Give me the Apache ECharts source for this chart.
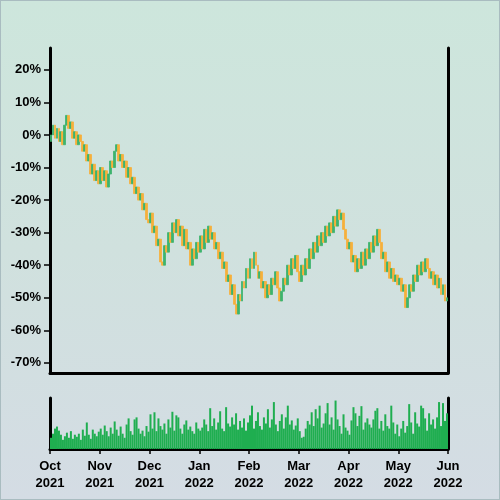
<!DOCTYPE html>
<html>
<head>
<meta charset="utf-8">
<script src="https://cdn.jsdelivr.net/npm/echarts@6/dist/echarts.min.js"></script>
<style>
  html, body { margin: 0; padding: 0; }
  #chart {
    width: 500px; height: 500px; box-sizing: border-box;
    border: 1px solid #a9bcc0;
    background: linear-gradient(to bottom, #cde6dc 0%, #d0e1de 50%, #d4dce4 100%);
  }
</style>
</head>
<body>
<div id="chart"></div>
<script>
// month tick labels (25 points per month)
const monthLabels = ['Oct\n2021', 'Nov\n2021', 'Dec\n2021', 'Jan\n2022', 'Feb\n2022', 'Mar\n2022', 'Apr\n2022', 'May\n2022', 'Jun\n2022']
const perMonth = 25
const yTicks = [-70, -60, -50, -40, -30, -20, -10, 0, 10, 20]

// closing value, % change from start
const closes = [
  0, 3, -1, 2, -2, 1, -3, 3, 6, 2, 4, -1, 1, -3, 0, -2, -5, -3, -8, -6, -12, -9, -14, -11, -15,
  -10, -14, -11, -16, -12, -8, -10, -5, -3, -8, -6, -10, -8, -13, -10, -15, -13, -18, -16, -20, -18, -23, -21, -26, -27,
  -24, -30, -28, -34, -32, -39, -40, -34, -36, -30, -33, -27, -30, -26, -31, -28, -34, -29, -35, -33, -40, -35, -38, -33, -36,
  -31, -35, -29, -33, -28, -32, -30, -35, -33, -38, -36, -41, -39, -45, -43, -49, -46, -52, -55, -49, -51, -45, -47, -41, -44,
  -38, -41, -36, -40, -44, -42, -47, -45, -50, -46, -49, -44, -46, -42, -47, -51, -48, -44, -46, -40, -43, -38, -41, -37, -42,
  -45, -40, -43, -38, -41, -35, -38, -33, -36, -31, -34, -30, -33, -28, -31, -27, -30, -25, -28, -23, -26, -24, -29, -32, -35,
  -33, -39, -37, -42, -38, -41, -36, -40, -35, -38, -33, -36, -31, -34, -29, -33, -38, -36, -42, -39, -44, -41, -45, -43, -46,
  -44, -48, -46, -53, -50, -46, -48, -43, -45, -40, -43, -39, -42, -38, -41, -44, -42, -46, -43, -47, -44, -49, -46, -51, -50
]

// traded volume, relative units
const volumes = [
  22, 30, 40, 44, 36, 28, 18, 25, 32, 22, 35, 20, 28, 24, 30, 18, 38, 26, 52, 28, 20, 38, 30, 25, 34,
  40, 28, 46, 35, 25, 42, 30, 54, 38, 26, 44, 30, 22, 48, 60, 35, 28, 58, 62, 40, 30, 36, 25, 45, 34,
  68, 40, 72, 35, 60, 45, 38, 50, 30, 58, 42, 73, 36, 66, 62, 40, 30, 48, 56, 38, 44, 35, 30, 52, 40,
  36, 42, 58, 48, 35, 80, 45, 60, 38, 52, 74, 40, 35, 82, 50, 44, 62, 48, 70, 38, 55, 42, 60, 36, 52,
  66, 85, 40, 55, 72, 45, 38, 62, 50, 78, 42, 58, 92, 48, 35, 55, 68, 40, 62, 85, 48, 56, 38, 46, 60,
  35, 22, 24, 40, 55, 48, 72, 45, 78, 60, 85, 42, 50, 70, 90, 48, 62, 38, 95, 58, 45, 30, 68, 42, 36,
  28, 56, 82, 70, 45, 65, 84, 38, 52, 60, 48, 42, 58, 75, 80, 40, 55, 36, 68, 45, 40, 85, 52, 30, 48,
  25, 40, 55, 32, 45, 88, 52, 30, 72, 50, 44, 85, 80, 60, 36, 70, 48, 58, 40, 62, 92, 45, 90, 55, 70
]

const candleData = closes.map((c, i) => {
  const o = i === 0 ? -2 : closes[i - 1]
  return [i + 0.5, o, c, Math.min(o, c), Math.max(o, c)]
})
const volumeData = volumes.map((v, i) => [i + 0.5, v])

const xMax = monthLabels.length - 1
const font = { fontFamily: 'Liberation Sans, Arial, sans-serif', fontWeight: 'bold', fontSize: 13, color: '#000' }
const blackLine = { show: true, onZero: false, lineStyle: { color: '#000', width: 3 } }

const chart = echarts.init(document.getElementById('chart'))

chart.setOption({
  backgroundColor: 'transparent',
  animation: false,
  grid: [
    { left: 49, right: 51, top: 47, height: 325 },
    { left: 49, right: 51, top: 397, height: 51 }
  ],
  xAxis: [
    {
      type: 'value', gridIndex: 0, min: 0, max: xMax * perMonth, interval: perMonth,
      axisLine: blackLine, axisTick: { show: false }, axisLabel: { show: false }, splitLine: { show: false }
    },
    {
      type: 'value', gridIndex: 1, min: 0, max: xMax * perMonth, interval: perMonth,
      axisLine: blackLine,
      axisTick: { show: true, length: 5, lineStyle: { color: '#000', width: 1.5 } },
      axisLabel: {
        ...font, margin: 9, lineHeight: 17, showMaxLabel: true,
        formatter: v => monthLabels[Math.round(v / perMonth)]
      },
      splitLine: { show: false }
    }
  ],
  yAxis: [
    {
      type: 'value', gridIndex: 0, min: -73.1, max: 26.7,
      axisLine: blackLine,
      axisTick: { show: true, length: 6, customValues: yTicks, lineStyle: { color: '#000', width: 1.5 } },
      axisLabel: { ...font, margin: 9, customValues: yTicks, formatter: v => v + '%' },
      splitLine: { show: false }
    },
    {
      type: 'value', gridIndex: 0, position: 'right', min: -73.1, max: 26.7,
      axisLine: blackLine, axisTick: { show: false }, axisLabel: { show: false }, splitLine: { show: false }
    },
    {
      type: 'value', gridIndex: 1, min: 0, max: 100,
      axisLine: blackLine, axisTick: { show: false }, axisLabel: { show: false }, splitLine: { show: false }
    },
    {
      type: 'value', gridIndex: 1, position: 'right', min: 0, max: 100,
      axisLine: blackLine, axisTick: { show: false }, axisLabel: { show: false }, splitLine: { show: false }
    }
  ],
  series: [
    {
      type: 'candlestick',
      xAxisIndex: 0,
      yAxisIndex: 0,
      barWidth: 2.4,
      encode: { x: 0, y: [1, 2, 3, 4] },
      itemStyle: {
        color: '#3db46d',
        color0: '#f6b03b',
        borderColor: '#3db46d',
        borderColor0: '#f6b03b',
        borderWidth: 0.8
      },
      data: candleData
    },
    {
      type: 'bar',
      xAxisIndex: 1,
      yAxisIndex: 2,
      barWidth: 2,
      itemStyle: { color: '#1fae50' },
      data: volumeData
    }
  ]
})
</script>
</body>
</html>
